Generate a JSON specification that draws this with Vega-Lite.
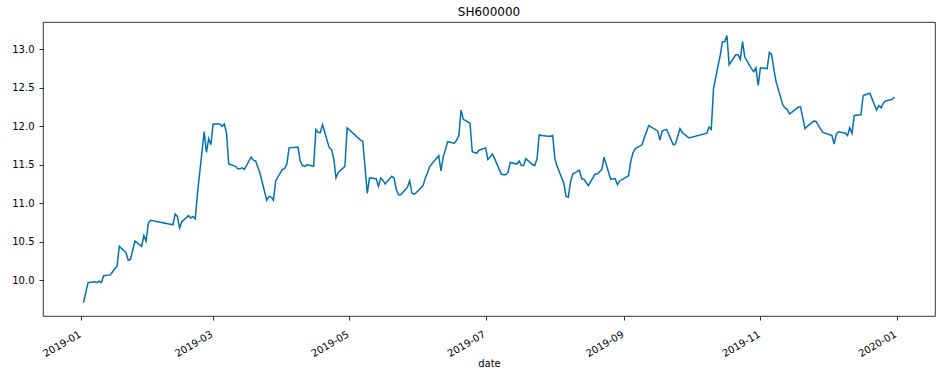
{
  "$schema": "https://vega.github.io/schema/vega-lite/v6.json",
  "autosize": {"type": "none"},
  "padding": {"left": 43, "top": 22, "right": 12, "bottom": 58},
  "width": 892,
  "height": 294,
  "background": "white",
  "title": {"text": "SH600000", "fontSize": 12, "fontWeight": "normal", "font": "DejaVu Sans", "color": "#000000", "offset": 3},
  "config": {
    "view": {"stroke": "#000000", "strokeWidth": 0.8},
    "axis": {"grid": false, "domain": false, "tickColor": "#000000", "tickWidth": 0.8, "tickSize": 4, "labelFont": "DejaVu Sans", "labelFontSize": 10, "labelColor": "#000000", "titleFont": "DejaVu Sans", "titleFontSize": 10, "titleFontWeight": "normal", "titleColor": "#000000"}
  },
  "data": {"values": [
    {"date": "2019-01-02", "close": 9.71},
    {"date": "2019-01-03", "close": 9.84},
    {"date": "2019-01-04", "close": 9.97},
    {"date": "2019-01-07", "close": 9.98},
    {"date": "2019-01-08", "close": 9.97},
    {"date": "2019-01-09", "close": 9.99},
    {"date": "2019-01-10", "close": 9.97},
    {"date": "2019-01-11", "close": 10.06},
    {"date": "2019-01-14", "close": 10.07},
    {"date": "2019-01-15", "close": 10.11},
    {"date": "2019-01-16", "close": 10.15},
    {"date": "2019-01-17", "close": 10.18},
    {"date": "2019-01-18", "close": 10.44},
    {"date": "2019-01-21", "close": 10.36},
    {"date": "2019-01-22", "close": 10.26},
    {"date": "2019-01-23", "close": 10.27},
    {"date": "2019-01-24", "close": 10.39},
    {"date": "2019-01-25", "close": 10.51},
    {"date": "2019-01-28", "close": 10.44},
    {"date": "2019-01-29", "close": 10.58},
    {"date": "2019-01-30", "close": 10.51},
    {"date": "2019-01-31", "close": 10.74},
    {"date": "2019-02-01", "close": 10.78},
    {"date": "2019-02-11", "close": 10.72},
    {"date": "2019-02-12", "close": 10.86},
    {"date": "2019-02-13", "close": 10.83},
    {"date": "2019-02-14", "close": 10.68},
    {"date": "2019-02-15", "close": 10.76},
    {"date": "2019-02-18", "close": 10.84},
    {"date": "2019-02-19", "close": 10.81},
    {"date": "2019-02-20", "close": 10.83},
    {"date": "2019-02-21", "close": 10.80},
    {"date": "2019-02-22", "close": 11.13},
    {"date": "2019-02-25", "close": 11.93},
    {"date": "2019-02-26", "close": 11.66},
    {"date": "2019-02-27", "close": 11.84},
    {"date": "2019-02-28", "close": 11.76},
    {"date": "2019-03-01", "close": 12.03},
    {"date": "2019-03-04", "close": 12.03},
    {"date": "2019-03-05", "close": 12.00},
    {"date": "2019-03-06", "close": 12.03},
    {"date": "2019-03-07", "close": 11.91},
    {"date": "2019-03-08", "close": 11.51},
    {"date": "2019-03-11", "close": 11.48},
    {"date": "2019-03-12", "close": 11.45},
    {"date": "2019-03-13", "close": 11.45},
    {"date": "2019-03-14", "close": 11.46},
    {"date": "2019-03-15", "close": 11.44},
    {"date": "2019-03-18", "close": 11.60},
    {"date": "2019-03-19", "close": 11.56},
    {"date": "2019-03-20", "close": 11.55},
    {"date": "2019-03-21", "close": 11.47},
    {"date": "2019-03-22", "close": 11.39},
    {"date": "2019-03-25", "close": 11.04},
    {"date": "2019-03-26", "close": 11.09},
    {"date": "2019-03-27", "close": 11.08},
    {"date": "2019-03-28", "close": 11.04},
    {"date": "2019-03-29", "close": 11.29},
    {"date": "2019-04-01", "close": 11.44},
    {"date": "2019-04-02", "close": 11.45},
    {"date": "2019-04-03", "close": 11.51},
    {"date": "2019-04-04", "close": 11.72},
    {"date": "2019-04-08", "close": 11.73},
    {"date": "2019-04-09", "close": 11.55},
    {"date": "2019-04-10", "close": 11.49},
    {"date": "2019-04-11", "close": 11.48},
    {"date": "2019-04-12", "close": 11.50},
    {"date": "2019-04-15", "close": 11.48},
    {"date": "2019-04-16", "close": 11.96},
    {"date": "2019-04-17", "close": 11.92},
    {"date": "2019-04-18", "close": 11.92},
    {"date": "2019-04-19", "close": 12.02},
    {"date": "2019-04-22", "close": 11.72},
    {"date": "2019-04-23", "close": 11.70},
    {"date": "2019-04-24", "close": 11.58},
    {"date": "2019-04-25", "close": 11.33},
    {"date": "2019-04-26", "close": 11.40},
    {"date": "2019-04-29", "close": 11.48},
    {"date": "2019-04-30", "close": 11.98},
    {"date": "2019-05-06", "close": 11.82},
    {"date": "2019-05-07", "close": 11.81},
    {"date": "2019-05-09", "close": 11.13},
    {"date": "2019-05-10", "close": 11.33},
    {"date": "2019-05-13", "close": 11.32},
    {"date": "2019-05-14", "close": 11.22},
    {"date": "2019-05-15", "close": 11.33},
    {"date": "2019-05-16", "close": 11.30},
    {"date": "2019-05-17", "close": 11.25},
    {"date": "2019-05-20", "close": 11.35},
    {"date": "2019-05-21", "close": 11.33},
    {"date": "2019-05-22", "close": 11.18},
    {"date": "2019-05-23", "close": 11.11},
    {"date": "2019-05-24", "close": 11.11},
    {"date": "2019-05-27", "close": 11.21},
    {"date": "2019-05-28", "close": 11.29},
    {"date": "2019-05-29", "close": 11.13},
    {"date": "2019-05-30", "close": 11.12},
    {"date": "2019-05-31", "close": 11.14},
    {"date": "2019-06-03", "close": 11.23},
    {"date": "2019-06-04", "close": 11.33},
    {"date": "2019-06-05", "close": 11.40},
    {"date": "2019-06-06", "close": 11.48},
    {"date": "2019-06-10", "close": 11.62},
    {"date": "2019-06-11", "close": 11.42},
    {"date": "2019-06-12", "close": 11.60},
    {"date": "2019-06-13", "close": 11.70},
    {"date": "2019-06-14", "close": 11.80},
    {"date": "2019-06-17", "close": 11.78},
    {"date": "2019-06-18", "close": 11.82},
    {"date": "2019-06-19", "close": 11.88},
    {"date": "2019-06-20", "close": 12.21},
    {"date": "2019-06-21", "close": 12.09},
    {"date": "2019-06-24", "close": 12.04},
    {"date": "2019-06-25", "close": 11.67},
    {"date": "2019-06-26", "close": 11.66},
    {"date": "2019-06-27", "close": 11.65},
    {"date": "2019-06-28", "close": 11.69},
    {"date": "2019-07-01", "close": 11.72},
    {"date": "2019-07-02", "close": 11.57},
    {"date": "2019-07-03", "close": 11.60},
    {"date": "2019-07-04", "close": 11.64},
    {"date": "2019-07-05", "close": 11.58},
    {"date": "2019-07-08", "close": 11.38},
    {"date": "2019-07-09", "close": 11.37},
    {"date": "2019-07-10", "close": 11.37},
    {"date": "2019-07-11", "close": 11.40},
    {"date": "2019-07-12", "close": 11.53},
    {"date": "2019-07-15", "close": 11.51},
    {"date": "2019-07-16", "close": 11.55},
    {"date": "2019-07-17", "close": 11.49},
    {"date": "2019-07-18", "close": 11.49},
    {"date": "2019-07-19", "close": 11.58},
    {"date": "2019-07-22", "close": 11.50},
    {"date": "2019-07-23", "close": 11.49},
    {"date": "2019-07-24", "close": 11.58},
    {"date": "2019-07-25", "close": 11.89},
    {"date": "2019-07-26", "close": 11.88},
    {"date": "2019-07-29", "close": 11.87},
    {"date": "2019-07-30", "close": 11.87},
    {"date": "2019-07-31", "close": 11.88},
    {"date": "2019-08-01", "close": 11.58},
    {"date": "2019-08-02", "close": 11.48},
    {"date": "2019-08-05", "close": 11.26},
    {"date": "2019-08-06", "close": 11.09},
    {"date": "2019-08-07", "close": 11.08},
    {"date": "2019-08-08", "close": 11.28},
    {"date": "2019-08-09", "close": 11.38},
    {"date": "2019-08-12", "close": 11.43},
    {"date": "2019-08-13", "close": 11.32},
    {"date": "2019-08-14", "close": 11.31},
    {"date": "2019-08-15", "close": 11.27},
    {"date": "2019-08-16", "close": 11.23},
    {"date": "2019-08-19", "close": 11.38},
    {"date": "2019-08-20", "close": 11.38},
    {"date": "2019-08-21", "close": 11.41},
    {"date": "2019-08-22", "close": 11.44},
    {"date": "2019-08-23", "close": 11.60},
    {"date": "2019-08-26", "close": 11.31},
    {"date": "2019-08-27", "close": 11.32},
    {"date": "2019-08-28", "close": 11.32},
    {"date": "2019-08-29", "close": 11.24},
    {"date": "2019-08-30", "close": 11.29},
    {"date": "2019-09-02", "close": 11.34},
    {"date": "2019-09-03", "close": 11.36},
    {"date": "2019-09-04", "close": 11.55},
    {"date": "2019-09-05", "close": 11.66},
    {"date": "2019-09-06", "close": 11.71},
    {"date": "2019-09-09", "close": 11.76},
    {"date": "2019-09-10", "close": 11.85},
    {"date": "2019-09-11", "close": 11.93},
    {"date": "2019-09-12", "close": 12.01},
    {"date": "2019-09-16", "close": 11.94},
    {"date": "2019-09-17", "close": 11.82},
    {"date": "2019-09-18", "close": 11.94},
    {"date": "2019-09-19", "close": 11.95},
    {"date": "2019-09-20", "close": 11.96},
    {"date": "2019-09-23", "close": 11.76},
    {"date": "2019-09-24", "close": 11.77},
    {"date": "2019-09-25", "close": 11.87},
    {"date": "2019-09-26", "close": 11.97},
    {"date": "2019-09-27", "close": 11.92},
    {"date": "2019-09-30", "close": 11.85},
    {"date": "2019-10-08", "close": 11.91},
    {"date": "2019-10-09", "close": 11.99},
    {"date": "2019-10-10", "close": 11.96},
    {"date": "2019-10-11", "close": 12.49},
    {"date": "2019-10-14", "close": 12.92},
    {"date": "2019-10-15", "close": 13.10},
    {"date": "2019-10-16", "close": 13.10},
    {"date": "2019-10-17", "close": 13.18},
    {"date": "2019-10-18", "close": 12.80},
    {"date": "2019-10-21", "close": 12.93},
    {"date": "2019-10-22", "close": 12.93},
    {"date": "2019-10-23", "close": 12.87},
    {"date": "2019-10-24", "close": 13.10},
    {"date": "2019-10-25", "close": 12.90},
    {"date": "2019-10-28", "close": 12.75},
    {"date": "2019-10-29", "close": 12.71},
    {"date": "2019-10-30", "close": 12.76},
    {"date": "2019-10-31", "close": 12.53},
    {"date": "2019-11-01", "close": 12.76},
    {"date": "2019-11-04", "close": 12.75},
    {"date": "2019-11-05", "close": 12.96},
    {"date": "2019-11-06", "close": 12.93},
    {"date": "2019-11-07", "close": 12.75},
    {"date": "2019-11-08", "close": 12.58},
    {"date": "2019-11-11", "close": 12.28},
    {"date": "2019-11-12", "close": 12.24},
    {"date": "2019-11-13", "close": 12.22},
    {"date": "2019-11-14", "close": 12.16},
    {"date": "2019-11-15", "close": 12.18},
    {"date": "2019-11-18", "close": 12.25},
    {"date": "2019-11-19", "close": 12.25},
    {"date": "2019-11-20", "close": 12.10},
    {"date": "2019-11-21", "close": 11.97},
    {"date": "2019-11-22", "close": 12.00},
    {"date": "2019-11-25", "close": 12.07},
    {"date": "2019-11-26", "close": 12.06},
    {"date": "2019-11-27", "close": 12.01},
    {"date": "2019-11-28", "close": 11.96},
    {"date": "2019-11-29", "close": 11.92},
    {"date": "2019-12-02", "close": 11.89},
    {"date": "2019-12-03", "close": 11.88},
    {"date": "2019-12-04", "close": 11.77},
    {"date": "2019-12-05", "close": 11.90},
    {"date": "2019-12-06", "close": 11.93},
    {"date": "2019-12-09", "close": 11.91},
    {"date": "2019-12-10", "close": 11.88},
    {"date": "2019-12-11", "close": 11.98},
    {"date": "2019-12-12", "close": 11.91},
    {"date": "2019-12-13", "close": 12.14},
    {"date": "2019-12-16", "close": 12.15},
    {"date": "2019-12-17", "close": 12.40},
    {"date": "2019-12-18", "close": 12.41},
    {"date": "2019-12-19", "close": 12.42},
    {"date": "2019-12-20", "close": 12.43},
    {"date": "2019-12-23", "close": 12.21},
    {"date": "2019-12-24", "close": 12.27},
    {"date": "2019-12-25", "close": 12.24},
    {"date": "2019-12-26", "close": 12.30},
    {"date": "2019-12-27", "close": 12.33},
    {"date": "2019-12-30", "close": 12.35},
    {"date": "2019-12-31", "close": 12.38}
  ]},
  "mark": {"type": "line", "color": "#0173b2", "strokeWidth": 1.5, "clip": true},
  "encoding": {
    "x": {
      "field": "date", "type": "temporal", "title": "date",
      "scale": {"type": "utc", "domain": [
        {"year": 2018, "month": 12, "date": 14, "hours": 20, "minutes": 24, "utc": true},
        {"year": 2020, "month": 1, "date": 18, "hours": 3, "minutes": 36, "utc": true}
      ]},
      "axis": {
        "values": [
          {"year": 2019, "month": 1, "date": 1, "utc": true},
          {"year": 2019, "month": 3, "date": 1, "utc": true},
          {"year": 2019, "month": 5, "date": 1, "utc": true},
          {"year": 2019, "month": 7, "date": 1, "utc": true},
          {"year": 2019, "month": 9, "date": 1, "utc": true},
          {"year": 2019, "month": 11, "date": 1, "utc": true},
          {"year": 2020, "month": 1, "date": 1, "utc": true}
        ],
        "format": "%Y-%m", "labelAngle": -30, "labelAlign": "right", "labelBaseline": "top",
        "labelPadding": 9, "labelOffset": -4, "titleY": 50, "titleBaseline": "alphabetic", "labelFlush": false, "labelOverlap": false
      }
    },
    "y": {
      "field": "close", "type": "quantitative", "title": null,
      "scale": {"domain": [9.536, 13.355], "nice": false, "zero": false},
      "axis": {"values": [10.0, 10.5, 11.0, 11.5, 12.0, 12.5, 13.0], "format": ".1f", "labelPadding": 5}
    }
  }
}
